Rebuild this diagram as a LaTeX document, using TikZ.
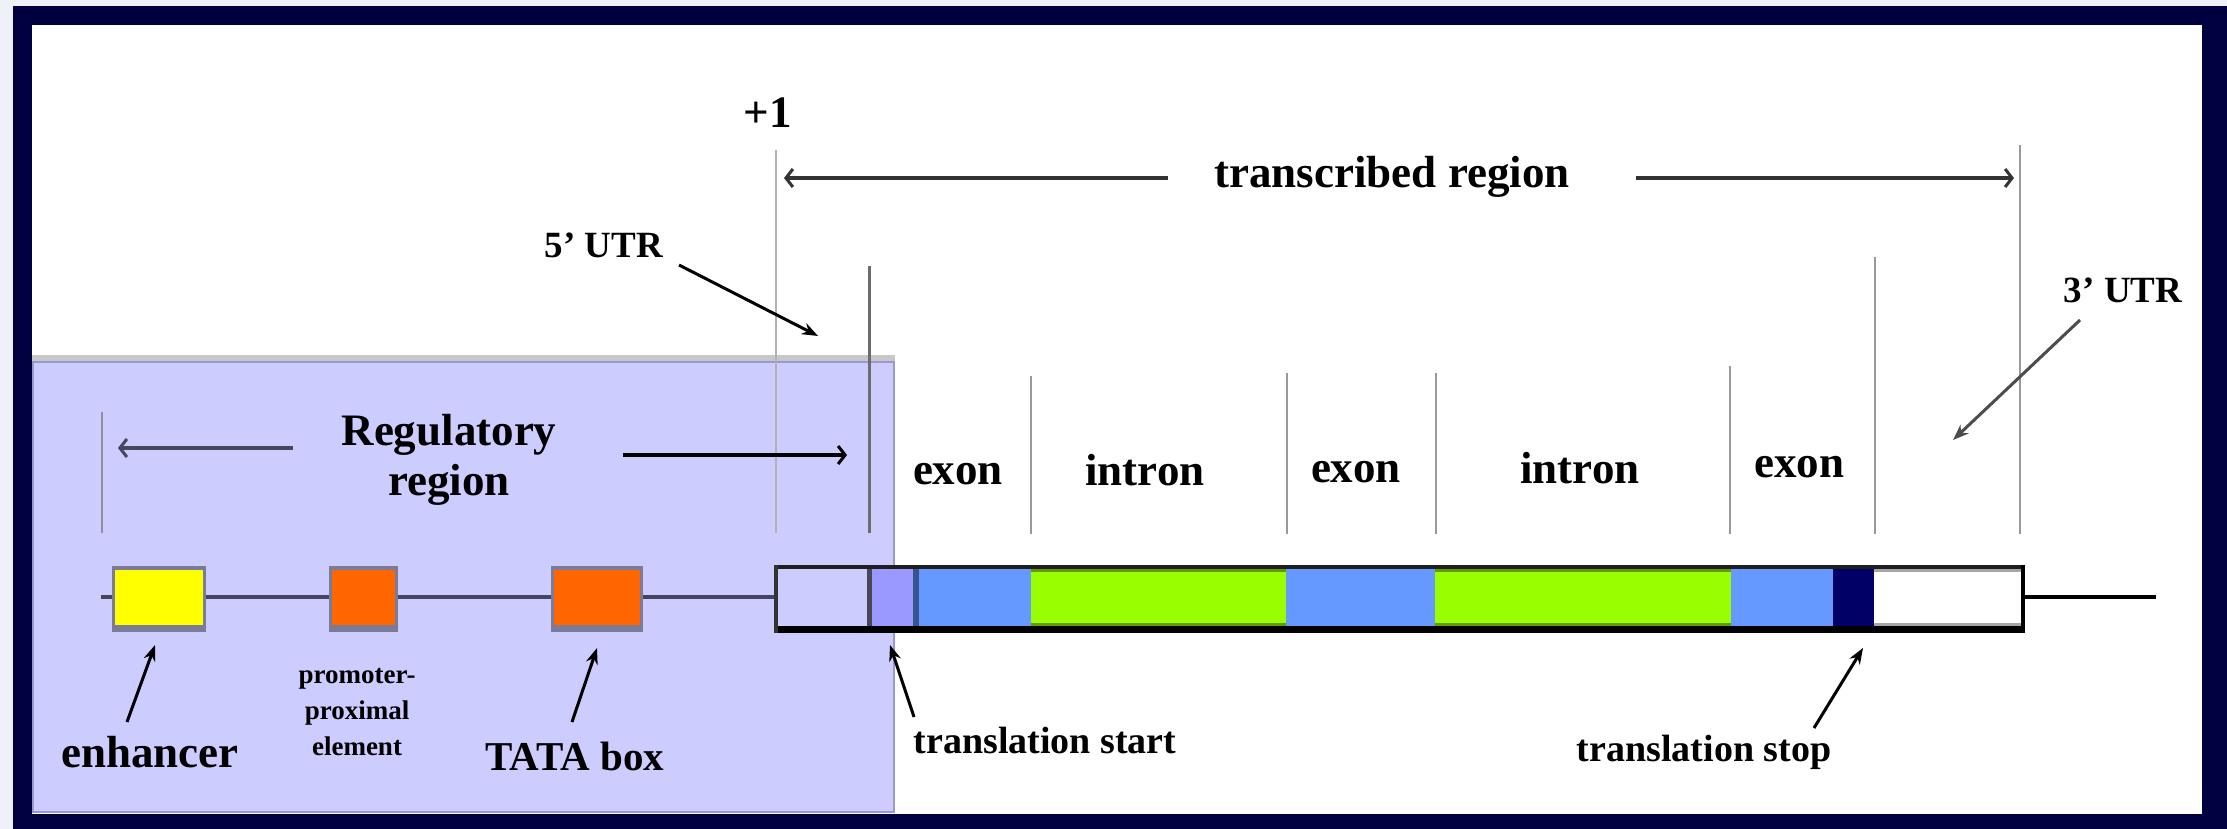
\documentclass[tikz,border=0pt]{standalone}
\usepackage{fontspec}
\setmainfont{Liberation Serif}
\usetikzlibrary{arrows.meta}

\definecolor{framenavy}{HTML}{000040}
\definecolor{outerbg}{HTML}{EEF1F8}
\definecolor{regfill}{HTML}{CCCCFF}
\definecolor{regedge}{HTML}{9999CC}
\definecolor{capgrey}{HTML}{C8C8C8}
\definecolor{boxshadow}{HTML}{7A7A99}
\definecolor{enhyellow}{HTML}{FFFF00}
\definecolor{promorange}{HTML}{FF6600}
\definecolor{startviolet}{HTML}{9999FF}
\definecolor{exonblue}{HTML}{6699FF}
\definecolor{intrgreen}{HTML}{99FF00}
\definecolor{intredge}{HTML}{669900}
\definecolor{stopnavy}{HTML}{000066}
\definecolor{dnagrey}{HTML}{44445E}
\definecolor{tickgrey}{HTML}{999999}

\tikzset{
  lbl/.style={font=\fontsize{45}{50}\selectfont\bfseries, inner sep=0pt, anchor=base},
  midlbl/.style={font=\fontsize{38}{44}\selectfont\bfseries, inner sep=0pt, anchor=base},
  utrlbl/.style={font=\fontsize{37}{42}\selectfont\bfseries, inner sep=0pt, anchor=base},
  tinylbl/.style={font=\fontsize{27}{36}\selectfont\bfseries, inner sep=0pt, align=center},
  tick/.style={draw=tickgrey, line width=2pt},
  pointer/.style={-{Stealth[length=16pt,width=12pt]}, line width=3pt, black},
  spanarrow/.style={-{Straight Barb[length=7pt,width=18pt,line width=3pt]}, line width=3.5pt},
  shadowbox/.style={fill=boxshadow},
}

\begin{document}
\begin{tikzpicture}[x=1pt,y=-1pt]
\useasboundingbox (0,0) rectangle (2227,829);

% page background and navy frame
\fill[outerbg] (0,0) rectangle (2227,829);
\fill[framenavy] (13,6) rectangle (2227,829);
\fill[white] (32,25) rectangle (2202,814);

% regulatory region panel
\fill[capgrey] (32,355) rectangle (895,361);
\fill[regfill] (32,361) rectangle (895,813);
\draw[regedge, line width=2pt] (33,362) rectangle (894,812);

% vertical boundary ticks
\draw[draw=gray!80!regfill, line width=2pt] (102,412) -- (102,533);
\draw[draw=gray!60, line width=2.5pt] (776,150) -- (776,533);
\draw[draw=gray!85!black, line width=3pt] (869,266) -- (869,533);
\foreach \x/\t in {1031/376, 1287/373, 1436/373, 1730/366, 1875/257, 2020/145}
  \draw[tick] (\x,\t) -- (\x,534);

% DNA line upstream and downstream
\draw[dnagrey, line width=4.5pt] (101,597) -- (774,597);
\draw[black, line width=3.5pt] (2025,597) -- (2156,597);

% regulatory elements
\fill[shadowbox] (112,566) rectangle (206,632);
\fill[enhyellow] (115,570) rectangle (203,625);
\fill[shadowbox] (329,566) rectangle (398,632);
\fill[promorange] (332,570) rectangle (395,625);
\fill[shadowbox] (551,566) rectangle (643,632);
\fill[promorange] (554,570) rectangle (640,625);

% transcribed gene bar
\fill[regfill] (777,569) rectangle (867,626);
\fill[black!65!regfill] (867,569) rectangle (872,626);
\fill[startviolet] (872,569) rectangle (913,626);
\fill[exonblue!55!black] (913,569) rectangle (919,626);
\fill[exonblue] (919,569) rectangle (1031,626);
\fill[intrgreen] (1031,569) rectangle (1286,626);
\fill[exonblue] (1286,569) rectangle (1435,626);
\fill[intrgreen] (1435,569) rectangle (1731,626);
\fill[exonblue] (1731,569) rectangle (1833,626);
\fill[stopnavy] (1833,569) rectangle (1874,626);
\fill[white] (1874,569) rectangle (2022,626);
\foreach \a/\b in {1031/1286, 1435/1731} {
  \fill[intredge] (\a,569) rectangle (\b,572);
  \fill[intredge] (\a,623) rectangle (\b,626);
}
\fill[gray!70] (1874,569) rectangle (2022,572);
\fill[gray!70] (1874,623) rectangle (2022,626);
\fill[black!88] (774,565) rectangle (2025,569);
\fill[black] (774,626) rectangle (2025,633);
\fill[black!80] (774,565) rectangle (778,633);
\fill[black] (2021,565) rectangle (2025,633);

% labels
\node[lbl] (plusone) at (768,128) {+1};
\node[lbl] (trans) at (1392,188) {transcribed region};
\node[utrlbl] (utrfive) at (604,258) {5’ UTR};
\node[utrlbl] (utrthree) at (2123,302) {3’ UTR};
\node[lbl] (regul) at (449,445) {Regulatory};
\node[lbl] (regn) at (449,495) {region};
\node[lbl] (exa) at (958,484) {exon};
\node[lbl] (ina) at (1145,485) {intron};
\node[lbl] (exb) at (1356,482) {exon};
\node[lbl] (inb) at (1580,483) {intron};
\node[lbl] (exc) at (1799,477) {exon};
\node[lbl] (enh) at (150,767) {enhancer};
\node[tinylbl] (ppe) at (357,712) {promoter-\\proximal\\element};
\node[lbl, font=\fontsize{41}{46}\selectfont\bfseries] (tata) at (575,770) {TATA box};
\node[midlbl] (tstart) at (1045,753) {translation start};
\node[midlbl] (tstop) at (1704,761) {translation stop};

% span arrows
\coordinate (trL) at (784,178);
\coordinate (trLt) at (1168,178);
\coordinate (trR) at (2014,178);
\coordinate (trRt) at (1636,178);
\draw[spanarrow, black!80] (trLt) -- (trL);
\draw[spanarrow, black!80] (trRt) -- (trR);

\coordinate (rgL) at (118,448);
\coordinate (rgLt) at (293,448);
\coordinate (rgR) at (847,455);
\coordinate (rgRt) at (623,455);
\draw[spanarrow, line width=4.5pt, black!65!regfill] (rgLt) -- (rgL);
\draw[spanarrow, line width=4.5pt, black] (rgRt) -- (rgR);

% pointer arrows
\coordinate (u5t) at (679,265);  \coordinate (u5h) at (818,336);
\coordinate (u3t) at (2080,320); \coordinate (u3h) at (1953,440);
\coordinate (ent) at (127,722);  \coordinate (enh2) at (155,645);
\coordinate (tat) at (572,722);  \coordinate (tah) at (597,648);
\coordinate (sst) at (914,717);  \coordinate (ssh) at (890,645);
\coordinate (spt) at (1814,728); \coordinate (sph) at (1863,648);
\draw[pointer] (u5t) -- (u5h);
\draw[pointer, black!70] (u3t) -- (u3h);
\draw[pointer] (ent) -- (enh2);
\draw[pointer] (tat) -- (tah);
\draw[pointer] (sst) -- (ssh);
\draw[pointer] (spt) -- (sph);
\end{tikzpicture}
\end{document}
